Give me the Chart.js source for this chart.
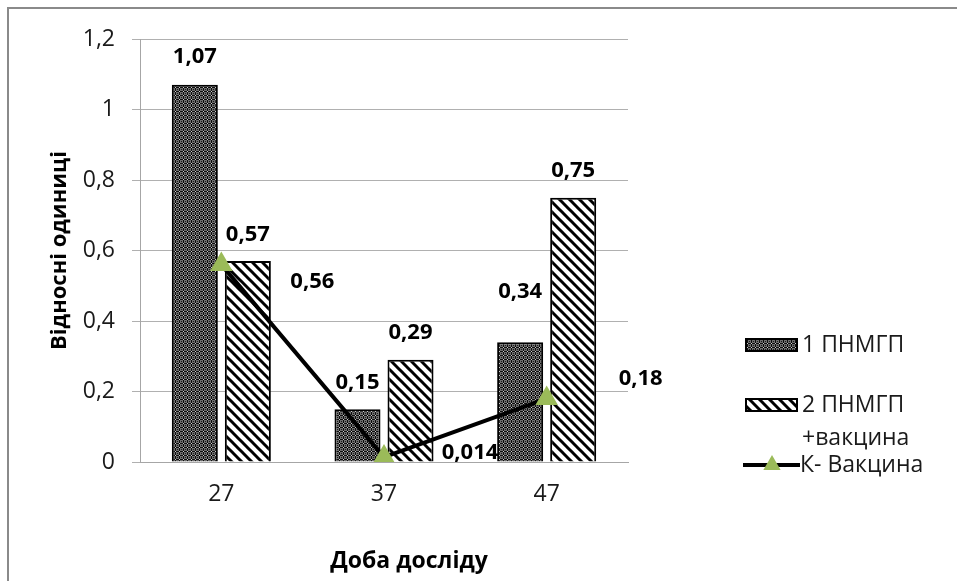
<!DOCTYPE html>
<html><head><meta charset="utf-8">
<script src="https://cdn.jsdelivr.net/npm/chart.js@4"></script>
<style>html,body{margin:0;padding:0;background:#fff;overflow:hidden}#wrap{width:957px;height:581px;position:relative}</style>
</head><body><div id="wrap"><canvas id="c" width="957" height="581"></canvas></div>
<script>
// ---- data ----
const categories = ['27', '37', '47'];
const series1Name = '1 ПНМГП';
const series1 = [1.07, 0.15, 0.34];
const series2Name = ['2 ПНМГП', '+вакцина'];
const series2 = [0.57, 0.29, 0.75];
const series3Name = 'К- Вакцина';
const series3 = [0.56, 0.014, 0.18];
const yMin = 0, yMax = 1.2, yStep = 0.2;
const xTitle = 'Доба досліду';
const yTitle = 'Відносні одиниці';

const FONT = "'Open Sans', sans-serif";
const TXT = '#1a1a1a';
const fmt = v => String(Number(v.toFixed(3))).replace('.', ',');

function dotPattern() {
  const c = document.createElement('canvas'); c.width = 4; c.height = 4;
  const x = c.getContext('2d');
  x.fillStyle = '#6e6e6e'; x.fillRect(0, 0, 4, 4);
  x.fillStyle = '#0d0d0d'; x.fillRect(3, 0, 1, 4); x.fillRect(0, 3, 4, 1);
  x.fillStyle = '#d0d0d0'; x.fillRect(3, 3, 1, 1);
  x.fillStyle = '#1a1a1a'; x.fillRect(1, 1, 1, 1);
  return x.createPattern(c, 'repeat');
}
function stripePattern() {
  const c = document.createElement('canvas'); c.width = 10; c.height = 10;
  const x = c.getContext('2d');
  x.fillStyle = '#fff'; x.fillRect(0, 0, 10, 10);
  x.strokeStyle = '#000'; x.lineWidth = 3;
  for (const k of [-10, 0, 10]) { x.beginPath(); x.moveTo(k - 3, -3); x.lineTo(k + 13, 13); x.stroke(); }
  return x.createPattern(c, 'repeat');
}
const pat1 = dotPattern(), pat2 = stripePattern();
const GREEN = '#9BBB59';

const frame = {
  id: 'frame',
  beforeDraw(chart) {
    const ctx = chart.ctx; ctx.save();
    ctx.fillStyle = '#fff'; ctx.fillRect(0, 0, chart.width, chart.height);
    ctx.strokeStyle = '#8a8a8a'; ctx.lineWidth = 2;
    ctx.beginPath(); ctx.moveTo(8, chart.height); ctx.lineTo(8, 8); ctx.lineTo(chart.width, 8); ctx.stroke();
    ctx.restore();
  },
  afterDraw(chart, args, opts) {
    const ctx = chart.ctx; ctx.save();
    ctx.font = 'bold 23px ' + FONT; ctx.fillStyle = '#000';
    ctx.textAlign = 'center'; ctx.textBaseline = 'middle';
    ctx.fillText(opts.xTitle, opts.xTitlePos[0], opts.xTitlePos[1]);
    ctx.restore();
  }
};

const valueLabels = {
  id: 'valueLabels',
  afterDatasetsDraw(chart, args, opts) {
    const ctx = chart.ctx; ctx.save();
    ctx.font = 'bold 22px ' + FONT; ctx.fillStyle = '#000';
    ctx.textAlign = 'center'; ctx.textBaseline = 'middle';
    chart.data.datasets.forEach((ds, di) => {
      const meta = chart.getDatasetMeta(di);
      meta.data.forEach((el, i) => {
        const v = ds.data[i];
        if (ds.type === 'line') {
          const s = opts.lineShift[i];
          ctx.fillText(fmt(v), el.x + s[0], el.y + s[1]);
        } else {
          const lift = opts.barLift[di][i];
          ctx.fillText(fmt(v), el.x, el.y - lift);
        }
      });
    });
    ctx.restore();
  }
};

const legendPlugin = {
  id: 'customLegend',
  afterDraw(chart) {
    const ctx = chart.ctx; const ds = chart.data.datasets;
    ctx.save();
    ctx.font = '23px ' + FONT; ctx.textBaseline = 'middle'; ctx.textAlign = 'left';
    // item 1
    ctx.fillStyle = ds[0].backgroundColor; ctx.fillRect(745, 338, 53, 14);
    ctx.strokeStyle = '#000'; ctx.lineWidth = 2; ctx.strokeRect(746, 339, 51, 12);
    ctx.fillStyle = TXT; ctx.fillText(ds[0].label, 802, 345);
    // item 2
    ctx.fillStyle = ds[1].backgroundColor; ctx.fillRect(745, 398, 53, 14);
    ctx.strokeRect(746, 399, 51, 12);
    ctx.fillStyle = TXT;
    ds[1].label.forEach((t, k) => ctx.fillText(t, 802, 405 + k * 33));
    // item 3
    ctx.strokeStyle = '#000'; ctx.lineWidth = 4;
    ctx.beginPath(); ctx.moveTo(743, 465); ctx.lineTo(800, 465); ctx.stroke();
    ctx.fillStyle = GREEN;
    const r = 10, cx = 772, cy = 465;
    ctx.beginPath();
    for (let k = 0; k < 3; k++) {
      const a = k * 2 * Math.PI / 3;
      const px = cx + Math.sin(a) * r, py = cy - Math.cos(a) * r;
      k ? ctx.lineTo(px, py) : ctx.moveTo(px, py);
    }
    ctx.closePath(); ctx.fill();
    ctx.fillStyle = TXT; ctx.fillText(ds[2].label, 800, 465);
    ctx.restore();
  }
};

new Chart(document.getElementById('c'), {
  type: 'bar',
  data: {
    labels: categories,
    datasets: [
      { type: 'bar', label: series1Name, data: series1, backgroundColor: pat1, borderColor: '#000', borderWidth: 2, order: 1,
        categoryPercentage: 0.652, barPercentage: 0.868 },
      { type: 'bar', label: series2Name, data: series2, backgroundColor: pat2, borderColor: '#000', borderWidth: 2, order: 1,
        categoryPercentage: 0.652, barPercentage: 0.868 },
      { type: 'line', label: series3Name, data: series3, borderColor: '#000', borderWidth: 4, tension: 0,
        pointStyle: 'triangle', pointRadius: 13, pointBackgroundColor: GREEN, pointBorderColor: GREEN, pointBorderWidth: 0, order: 0 }
    ]
  },
  options: {
    responsive: false, animation: false, devicePixelRatio: 1,
    layout: { padding: { left: 0, top: 39, right: 329, bottom: 0 } },
    plugins: {
      legend: { display: false }, tooltip: { enabled: false },
      valueLabels: { barLift: [[28, 26, 50], [26, 27, 27]], lineShift: [[91, 17], [86, -4], [94, -20]] },
      frame: { xTitle: xTitle, xTitlePos: [409, 561] }
    },
    scales: {
      x: {
        grid: { display: false, drawTicks: false },
        border: { display: true, color: '#a6a6a6', width: 1 },
        ticks: { font: { family: FONT, size: 23 }, color: TXT, padding: 19 },
        afterFit(s) { s.height = 119; s.paddingLeft = 0; s.paddingRight = 0; }
      },
      y: {
        min: yMin, max: yMax,
        grid: { color: '#b0b0b0', tickLength: 8, drawTicks: true },
        border: { display: true, color: '#a6a6a6', width: 1 },
        ticks: { stepSize: yStep, font: { family: FONT, size: 23 }, color: TXT, padding: 17, callback: v => fmt(v) },
        title: { display: true, text: yTitle, font: { family: FONT, size: 22, weight: 'bold' }, color: '#000', padding: { top: 47, bottom: 0 } },
        afterFit(s) { s.width = 140; s.paddingTop = 0; s.paddingBottom = 0; }
      }
    }
  },
  plugins: [frame, valueLabels, legendPlugin]
});
</script>
</body></html>
